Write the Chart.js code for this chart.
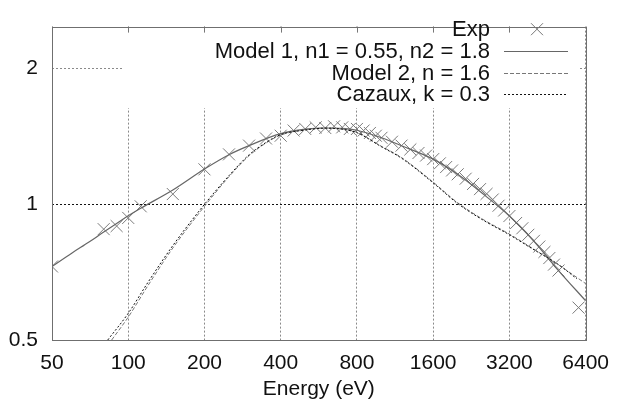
<!DOCTYPE html>
<html>
<head>
<meta charset="utf-8">
<title>Yield vs energy</title>
<script src="https://cdn.jsdelivr.net/npm/chart.js@4.4.1/dist/chart.umd.min.js"></script>
<style>
  html, body { margin: 0; padding: 0; background: #fff; }
  #wrap { width: 620px; height: 406px; }
</style>
</head>
<body>
<div id="wrap"><canvas id="grafico" width="620" height="406"></canvas></div>
<script>
const xTicks = [50, 100, 200, 400, 800, 1600, 3200, 6400];
const yTicks = [0.5, 1, 2];

// Exp points
const expEnergy = [50, 80, 90, 100, 112, 150, 200, 250, 300, 350, 400, 450, 500, 550, 600, 650, 700, 750, 800, 850,
  900, 950, 1000, 1100, 1200, 1300, 1400, 1500, 1600, 1700, 1800, 1900, 2000, 2150, 2300, 2450, 2600, 2750, 2900,
  3050, 3200, 3400, 3600, 3800, 4000, 4200, 4400, 4600, 4800, 5000, 6000];
const expYield = [0.728, 0.881, 0.895, 0.933, 0.99, 1.054, 1.196, 1.291, 1.35, 1.40, 1.42, 1.458, 1.47, 1.482, 1.477, 1.49, 1.482, 1.47, 1.47, 1.458,
  1.44, 1.42, 1.405, 1.377, 1.35, 1.324, 1.30, 1.283, 1.26, 1.233, 1.21, 1.189, 1.166, 1.14, 1.11, 1.081, 1.055, 1.025, 0.993,
  0.969, 0.942, 0.909, 0.885, 0.856, 0.83, 0.806, 0.784, 0.76, 0.735, 0.713, 0.59];

// Model 1, n1 = 0.55, n2 = 1.8
const model1Energy = [50, 60, 70, 80, 90, 100, 112, 150, 200, 250, 300, 400, 500, 600, 700, 800, 1000, 1200, 1600, 2000, 2500, 3200, 4000, 5000, 6400];
const model1Yield = [0.728, 0.78, 0.825, 0.868, 0.907, 0.943, 0.98, 1.076, 1.198, 1.289, 1.35, 1.435, 1.468, 1.477, 1.474, 1.46, 1.405, 1.349, 1.26, 1.166, 1.058, 0.942, 0.828, 0.713, 0.611];

// Model 2, n = 1.6
const model2Energy = [86, 100, 120, 150, 200, 250, 300, 350, 400, 500, 600, 700, 800, 1000, 1200, 1600, 2000, 2500, 3200, 4000, 5000, 6400];
const model2Yield = [0.5, 0.562, 0.662, 0.80, 0.99, 1.152, 1.282, 1.368, 1.425, 1.462, 1.477, 1.47, 1.445, 1.345, 1.27, 1.12, 1.008, 0.928, 0.859, 0.795, 0.734, 0.667];

// Cazaux, k = 0.3
const cazauxEnergy = [83, 100, 120, 150, 200, 250, 300, 350, 400, 500, 600, 700, 800, 1000, 1200, 1600, 2000, 2500, 3200, 4000, 5000, 5900];
const cazauxYield = [0.5, 0.573, 0.673, 0.81, 1.0, 1.158, 1.288, 1.372, 1.428, 1.462, 1.476, 1.468, 1.442, 1.342, 1.266, 1.116, 1.004, 0.925, 0.856, 0.793, 0.735, 0.684];

const legendLabels = ["Exp", "Model 1, n1 = 0.55, n2 = 1.8", "Model 2, n = 1.6", "Cazaux, k = 0.3"];

const FONT = "'Liberation Sans', Arial, Helvetica, sans-serif";
const FSIZE = 21;

function pares(xs, ys) {
  return xs.map((x, i) => ({ x: x, y: ys[i] }));
}

const moldura = {
  id: "moldura",
  beforeDatasetsDraw(chart) {
    const c = chart.ctx;
    const a = chart.chartArea;
    // key box blanks the grid
    c.save();
    c.fillStyle = "#fff";
    c.fillRect(124, a.top + 1, 456, 107 - a.top);
    // mirror ticks on top border
    c.strokeStyle = "#777";
    c.lineWidth = 1;
    const sx = chart.scales.x;
    xTicks.forEach(v => {
      const px = Math.round(sx.getPixelForValue(v)) + 0.5;
      c.beginPath();
      c.moveTo(px, a.top);
      c.lineTo(px, a.top + 6);
      c.stroke();
    });
    c.restore();
  },
  afterDatasetsDraw(chart) {
    const c = chart.ctx;
    const a = chart.chartArea;
    c.save();
    c.strokeStyle = "#6f6f6f";
    c.lineWidth = 1;
    c.strokeRect(Math.round(a.left) + 0.5, Math.round(a.top) + 0.5, Math.round(a.right - a.left), Math.round(a.bottom - a.top));

    // legend
    const rows = [29.2, 50.9, 72.6, 94.3];
    c.font = "22px " + FONT;
    c.textAlign = "right";
    c.textBaseline = "middle";
    c.fillStyle = "#111";
    legendLabels.forEach((t, i) => c.fillText(t, 490, rows[i] + 1));

    // Exp sample
    c.strokeStyle = "#777";
    c.beginPath();
    c.moveTo(531, rows[0] - 6); c.lineTo(543, rows[0] + 6);
    c.moveTo(543, rows[0] - 6); c.lineTo(531, rows[0] + 6);
    c.stroke();

    const estilos = [
      { color: "#666", dash: [] },
      { color: "#777", dash: [4, 2] },
      { color: "#111", dash: [2, 2] }
    ];
    estilos.forEach((e, i) => {
      const y = Math.round(rows[i + 1]) + 0.5;
      c.strokeStyle = e.color;
      c.setLineDash(e.dash);
      c.beginPath();
      c.moveTo(504, y);
      c.lineTo(568, y);
      c.stroke();
    });
    c.restore();
  }
};

new Chart(document.getElementById("grafico").getContext("2d"), {
  type: "scatter",
  data: {
    datasets: [
      {
        label: legendLabels[0],
        data: pares(expEnergy, expYield),
        showLine: false,
        pointStyle: "crossRot",
        pointRadius: 8.5,
        borderWidth: 1,
        borderColor: "#7a7a7a",
        order: 10
      },
      {
        label: legendLabels[1],
        data: pares(model1Energy, model1Yield),
        showLine: true,
        borderColor: "#666",
        borderWidth: 1.2,
        pointRadius: 0,
        cubicInterpolationMode: "monotone",
        order: 3
      },
      {
        label: legendLabels[2],
        data: pares(model2Energy, model2Yield),
        showLine: true,
        borderColor: "#777",
        borderWidth: 1,
        borderDash: [4, 2],
        pointRadius: 0,
        cubicInterpolationMode: "monotone",
        order: 2
      },
      {
        label: legendLabels[3],
        data: pares(cazauxEnergy, cazauxYield),
        showLine: true,
        borderColor: "#111",
        borderWidth: 1,
        borderDash: [2, 2],
        pointRadius: 0,
        cubicInterpolationMode: "monotone",
        order: 1
      }
    ]
  },
  options: {
    responsive: false,
    animation: false,
    layout: { padding: { top: 13, right: 25, left: 0, bottom: 0 } },
    plugins: {
      legend: { display: false },
      tooltip: { enabled: false }
    },
    scales: {
      x: {
        type: "logarithmic",
        min: 50,
        max: 6400,
        afterBuildTicks: s => { s.ticks = xTicks.map(v => ({ value: v })); },
        afterFit: s => { s.height = 66; },
        border: { display: false, dash: [2, 2] },
        grid: {
          color: "#8a8a8a",
          lineWidth: 1,
          drawTicks: false
        },
        ticks: {
          autoSkip: false,
          maxRotation: 0,
          padding: 11,
          color: "#111",
          font: { family: FONT, size: FSIZE },
          callback: v => String(v)
        },
        title: {
          display: true,
          text: "Energy (eV)",
          color: "#111",
          font: { family: FONT, size: FSIZE },
          padding: { top: 0, bottom: 4 }
        }
      },
      y: {
        type: "logarithmic",
        min: 0.5,
        max: 2.48,
        afterBuildTicks: s => { s.ticks = yTicks.map(v => ({ value: v })); },
        afterFit: s => { s.width = 52; },
        border: { display: false, dash: [2, 2] },
        grid: {
          color: ctx => (ctx.tick && ctx.tick.value === 1 ? "#111" : "#8a8a8a"),
          lineWidth: 1,
          drawTicks: false
        },
        ticks: {
          padding: 14,
          color: "#111",
          font: { family: FONT, size: FSIZE },
          callback: v => String(v)
        }
      }
    }
  },
  plugins: [moldura]
});
</script>
</body>
</html>
